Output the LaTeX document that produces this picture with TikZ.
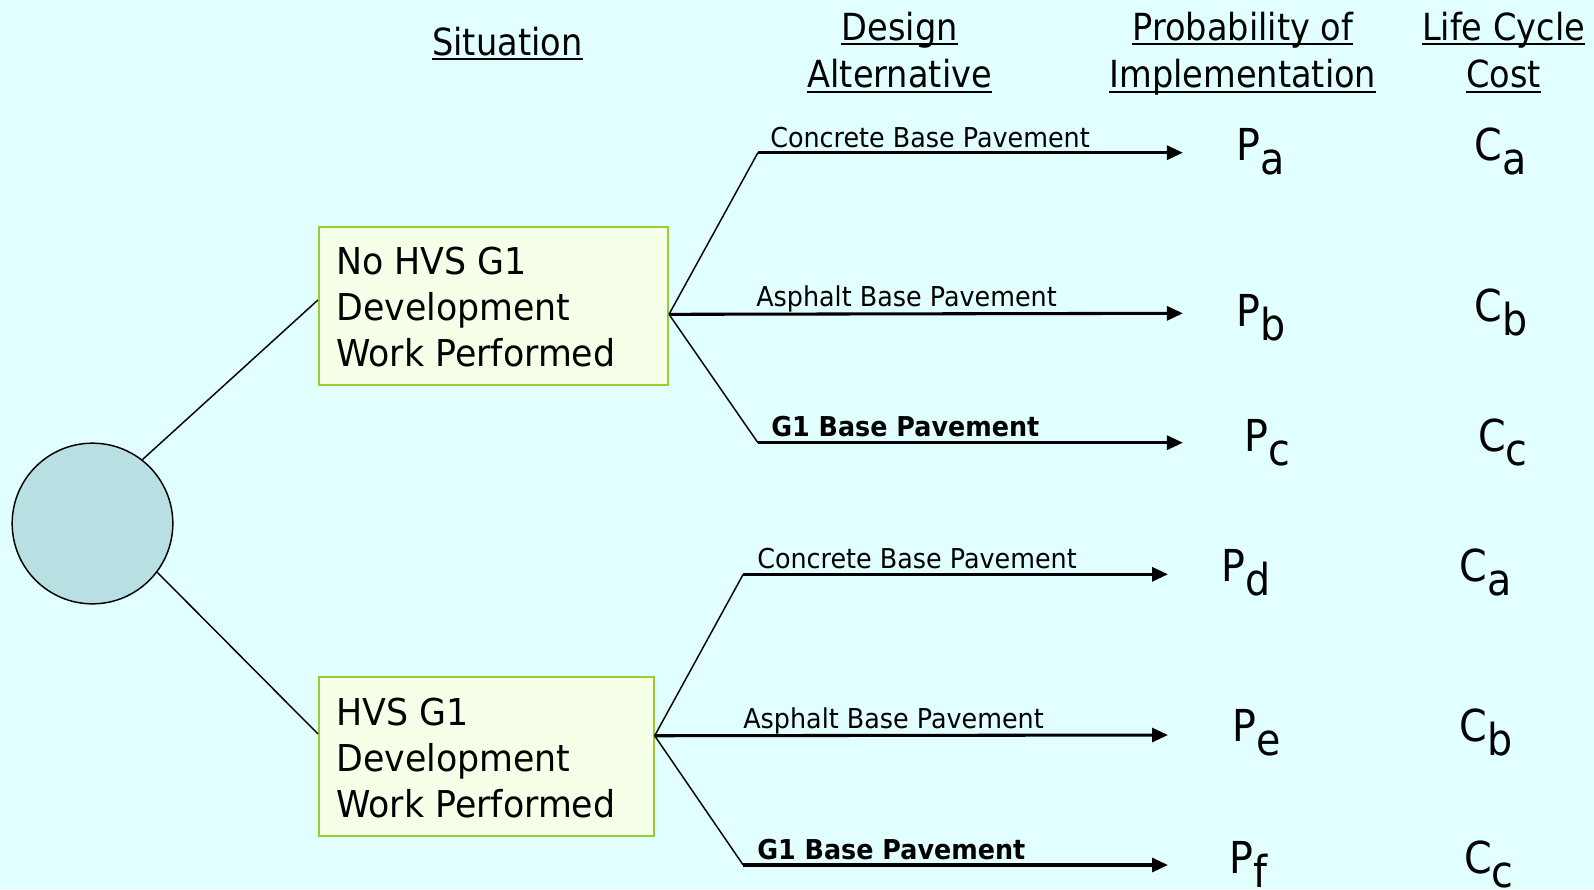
\documentclass[tikz,border=0pt]{standalone}
\usepackage{fontspec}
\setmainfont[FakeStretch=0.9]{DejaVu Sans}
\newfontfamily\boxfont[FakeStretch=0.94]{DejaVu Sans}
\newfontfamily\lblfont[FakeStretch=0.93]{DejaVu Sans}
\usetikzlibrary{calc,arrows.meta}
\definecolor{bgc}{HTML}{E1FFFF}
\definecolor{circfill}{HTML}{B8DFE1}
\definecolor{boxfill}{HTML}{F6FFE8}
\definecolor{boxdraw}{HTML}{9ACD32}
\newcommand{\lowsub}[1]{\raisebox{-10.5pt}{#1}}
\newcommand{\boxlines}[3]{\vtop{\baselineskip=34.5pt\hbox{#1}\hbox{#2}\hbox{#3}}}
\begin{document}
\begin{tikzpicture}[x=0.75pt,y=-0.75pt,
  boxstyle/.style={draw=boxdraw, fill=boxfill, line width=1.5pt, anchor=north west, inner sep=0},
  boxtext/.style={anchor=base west, inner sep=0, font=\boxfont\fontsize{27.75}{34.5}\selectfont},
  headtext/.style={anchor=base, inner sep=0, font=\fontsize{28}{34}\selectfont},
  ul/.style={line width=1.5pt, line cap=butt},
  lbl/.style={anchor=base west, inner sep=0, font=\lblfont\fontsize{20.5}{24}\selectfont},
  lblbold/.style={lbl, font=\lblfont\fontsize{20.5}{24}\selectfont\bfseries},
  sym/.style={anchor=base west, inner sep=0, font=\fontsize{33}{40}\selectfont},
  thinline/.style={line width=1.1pt},
  thickarrow/.style={line width=2.3pt, -{Triangle[length=12pt,width=10.5pt]}},
]
\fill[bgc] (0,0) rectangle (1594,889);
\useasboundingbox (0,0) rectangle (1594,889);

% headers
\node[headtext] (h1) at (507.3,55) {Situation};
\node[headtext] (h2) at (899.7,40) {Design};
\node[headtext] (h3) at (899.7,87.5) {Alternative};
\node[headtext] (h4) at (1242.8,40) {Probability of};
\node[headtext] (h5) at (1242.8,87.5) {Implementation};
\node[headtext] (h6) at (1503.6,40) {Life Cycle};
\node[headtext] (h7) at (1503.6,87.5) {Cost};
\foreach \h in {h1,h2,h3,h4,h5,h6,h7}{
  \draw[ul] ([yshift=-3.2pt]\h.base west) -- ([yshift=-3.2pt]\h.base east);
}

% root circle
\node[circle, draw=black, fill=circfill, line width=1.1pt, minimum size=120.5pt, inner sep=0] (c) at (92.5,523.5) {};

% situation boxes
\node[boxstyle, minimum width=261.75pt, minimum height=118.5pt] (b1) at (318,226) {};
\node[boxtext] (b1t) at (336,274) {\boxlines{No HVS G1}{Development}{Work Performed}};
\node[boxstyle, minimum width=251pt, minimum height=119.25pt] (b2) at (318,676) {};
\node[boxtext] (b2t) at (336,725) {\boxlines{HVS G1}{Development}{Work Performed}};

\draw[thinline] (c.52.3) -- ($(b1.north west)!0.462!(b1.south west)$);
\draw[thinline] (c.-37.4) -- ($(b2.north west)!0.36!(b2.south west)$);

% upper branches
\coordinate (br1) at ($(b1.north east)!0.552!(b1.south east)$);
\coordinate (k1) at (757.9,152.7);
\coordinate (k3) at (757.9,442.7);
\coordinate (t1) at (1182.9,152.7);
\coordinate (t2) at (1182.9,313.3);
\coordinate (t3) at (1182.9,442.7);
\draw[thinline] (br1) -- (k1);
\draw[thinline] (br1) -- (k3);
\draw[thickarrow] (k1) -- (t1);
\draw[thickarrow] (br1) -- (t2);
\draw[thickarrow] (k3) -- (t3);

% lower branches
\coordinate (br2) at ($(b2.north east)!0.371!(b2.south east)$);
\coordinate (k4) at (743.2,574.3);
\coordinate (k6) at (743.2,865);
\coordinate (t4) at (1168,574.3);
\coordinate (t5) at (1168,735);
\coordinate (t6) at (1168,865);
\draw[thinline] (br2) -- (k4);
\draw[thinline] (br2) -- (k6);
\draw[thickarrow] (k4) -- (t4);
\draw[thickarrow] (br2) -- (t5);
\draw[thickarrow] (k6) -- (t6);

% branch labels
\node[lbl] (l1) at (770,147.3) {Concrete Base Pavement};
\node[lbl] (l2) at (756,306.7) {Asphalt Base Pavement};
\node[lblbold] (l3) at (771,436.7) {G1 Base Pavement};
\node[lbl] (l4) at (757,568.3) {Concrete Base Pavement};
\node[lbl] (l5) at (743,728.3) {Asphalt Base Pavement};
\node[lblbold] (l6) at (757,859) {G1 Base Pavement};

% probabilities
\node[sym] (pa) at (1236,160.7) {P\lowsub{a}};
\node[sym] (pb) at (1236,326.7) {P\lowsub{b}};
\node[sym] (pc) at (1244.3,451.7) {P\lowsub{c}};
\node[sym] (pd) at (1221,581.7) {P\lowsub{d}};
\node[sym] (pe) at (1232.7,741.7) {P\lowsub{e}};
\node[sym] (pf) at (1229.3,873.3) {P\lowsub{f}};

% costs
\node[sym] (ca) at (1474.5,160.7) {C\lowsub{a}};
\node[sym] (cb) at (1474.5,321.7) {C\lowsub{b}};
\node[sym] (cc) at (1477.8,451.7) {C\lowsub{c}};
\node[sym] (ca2) at (1459.5,581.7) {C\lowsub{a}};
\node[sym] (cb2) at (1459.5,741.7) {C\lowsub{b}};
\node[sym] (cc2) at (1463.8,873.3) {C\lowsub{c}};
\end{tikzpicture}
\end{document}
